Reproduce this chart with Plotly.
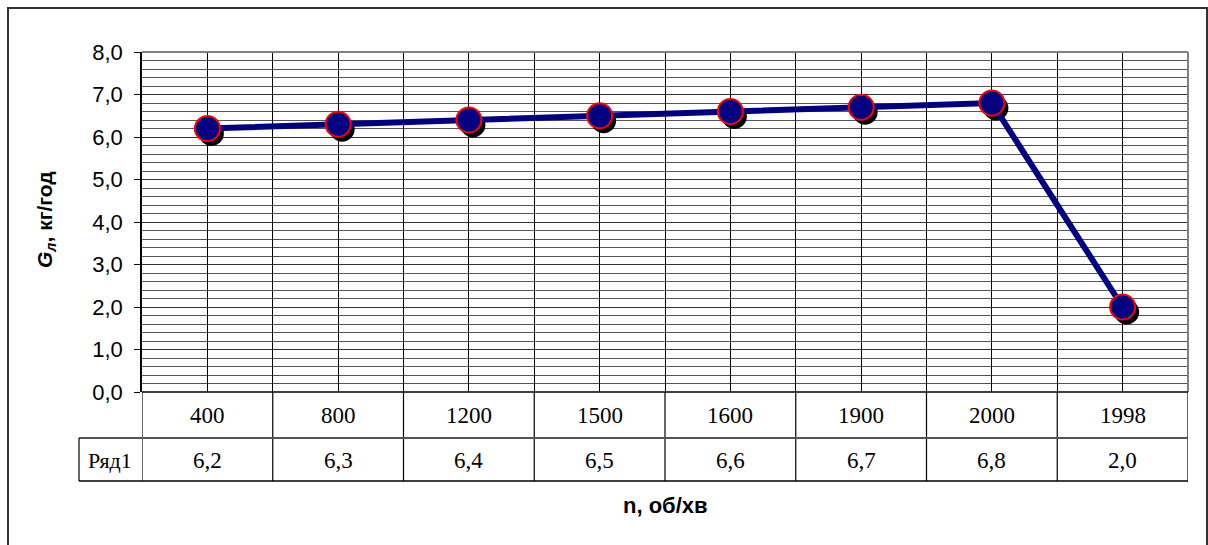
import plotly.graph_objects as go

categories = ["400", "800", "1200", "1500", "1600", "1900", "2000", "1998"]
values = [6.2, 6.3, 6.4, 6.5, 6.6, 6.7, 6.8, 2.0]
series_name = "Ряд1"
y_ticks = [0, 1, 2, 3, 4, 5, 6, 7, 8]

W, H = 1208, 545
L, R, T, B = 142, 20, 52, 153
pw = W - L - R
ph = H - T - B
n = len(categories)
xs = list(range(n))


def px_x(p):
    return (p - L) / pw


def px_y(p):
    return (H - B - p) / ph


def fmt(v):
    return f"{v:.1f}".replace(".", ",")


dx = 4 / (pw / n)
dy = 5 / (ph / 8)

fig = go.Figure()
# marker shadow
fig.add_trace(go.Scatter(
    x=[x + dx for x in xs], y=[v - dy for v in values], mode="markers",
    marker=dict(size=25, color="black", line=dict(width=0)),
    hoverinfo="skip", showlegend=False, cliponaxis=False))
fig.add_trace(go.Scatter(
    x=xs, y=values, mode="lines+markers", name=series_name,
    line=dict(color="#000080", width=6),
    marker=dict(size=25, color="#000080", line=dict(color="#ff0000", width=2)),
    showlegend=False, cliponaxis=False))

shapes = []
for i in range(n + 1):
    shapes.append(dict(type="line", xref="x", yref="paper", x0=i - 0.5, x1=i - 0.5,
                       y0=0, y1=px_y(481), line=dict(color="black", width=1.2)))
shapes.append(dict(type="line", xref="paper", yref="paper", x0=px_x(79), x1=1,
                   y0=px_y(438), y1=px_y(438), line=dict(color="#555", width=2)))
shapes.append(dict(type="line", xref="paper", yref="paper", x0=px_x(79), x1=1,
                   y0=px_y(481), y1=px_y(481), line=dict(color="black", width=1.5)))
shapes.append(dict(type="line", xref="paper", yref="paper", x0=px_x(79), x1=px_x(79),
                   y0=px_y(438), y1=px_y(481), line=dict(color="black", width=1.2)))
shapes.append(dict(type="line", xref="paper", yref="paper", x0=0, x1=1, y0=1, y1=1,
                   line=dict(color="#808080", width=2)))
shapes.append(dict(type="line", xref="paper", yref="paper", x0=1, x1=1, y0=0, y1=1,
                   line=dict(color="#808080", width=2)))
shapes.append(dict(type="line", xref="paper", yref="paper", x0=0, x1=1, y0=0, y1=0,
                   line=dict(color="black", width=1.5)))
shapes.append(dict(type="rect", xref="paper", yref="paper", x0=px_x(8), x1=px_x(1207),
                   y0=px_y(560), y1=px_y(8), line=dict(color="#333", width=2),
                   fillcolor="rgba(0,0,0,0)", layer="below"))

serif = dict(family="Liberation Serif", size=23, color="black")
common = dict(showarrow=False, xanchor="center", yanchor="middle")
annotations = []
for i, c in enumerate(categories):
    annotations.append(dict(x=i, y=px_y(415), xref="x", yref="paper", text=c,
                            font=serif, **common))
    annotations.append(dict(x=i, y=px_y(460), xref="x", yref="paper", text=fmt(values[i]),
                            font=serif, **common))
annotations.append(dict(x=px_x(110), y=px_y(460), xref="paper", yref="paper", text=series_name,
                        font=dict(family="Liberation Serif", size=22, color="black"), **common))
annotations.append(dict(x=0.5, y=px_y(505), xref="paper", yref="paper", text="<b>n, об/хв</b>",
                        font=dict(family="Liberation Sans", size=22, color="black"), **common))
annotations.append(dict(x=px_x(46), y=px_y(220), xref="paper", yref="paper", textangle=-90,
                        text="<b><i>G<sub>л</sub></i>, кг/год</b>",
                        font=dict(family="Liberation Sans", size=21, color="black"), **common))

fig.update_layout(
    width=W, height=H, margin=dict(l=L, r=R, t=T, b=B),
    paper_bgcolor="white", plot_bgcolor="white",
    separators=", ",
    shapes=shapes, annotations=annotations,
    xaxis=dict(range=[-0.5, n - 0.5], tickmode="linear", tick0=-0.5, dtick=0.5,
               showticklabels=False, ticks="", showgrid=True, gridcolor="black", gridwidth=1,
               zeroline=False, showline=False, fixedrange=True),
    yaxis=dict(range=[0, 8], tickmode="array", tickvals=y_ticks,
               ticktext=[fmt(v) for v in y_ticks],
               ticks="outside", ticklen=6, tickcolor="black", tickwidth=1,
               ticklabelstandoff=7,
               showgrid=True, gridcolor="#333", gridwidth=1,
               minor=dict(dtick=0.2, showgrid=True, gridcolor="#555", gridwidth=1, ticks=""),
               showline=True, linecolor="black", linewidth=1.5, zeroline=False,
               tickfont=dict(family="Liberation Sans", size=22, color="black"), fixedrange=True),
)

fig.write_html("out.html")
